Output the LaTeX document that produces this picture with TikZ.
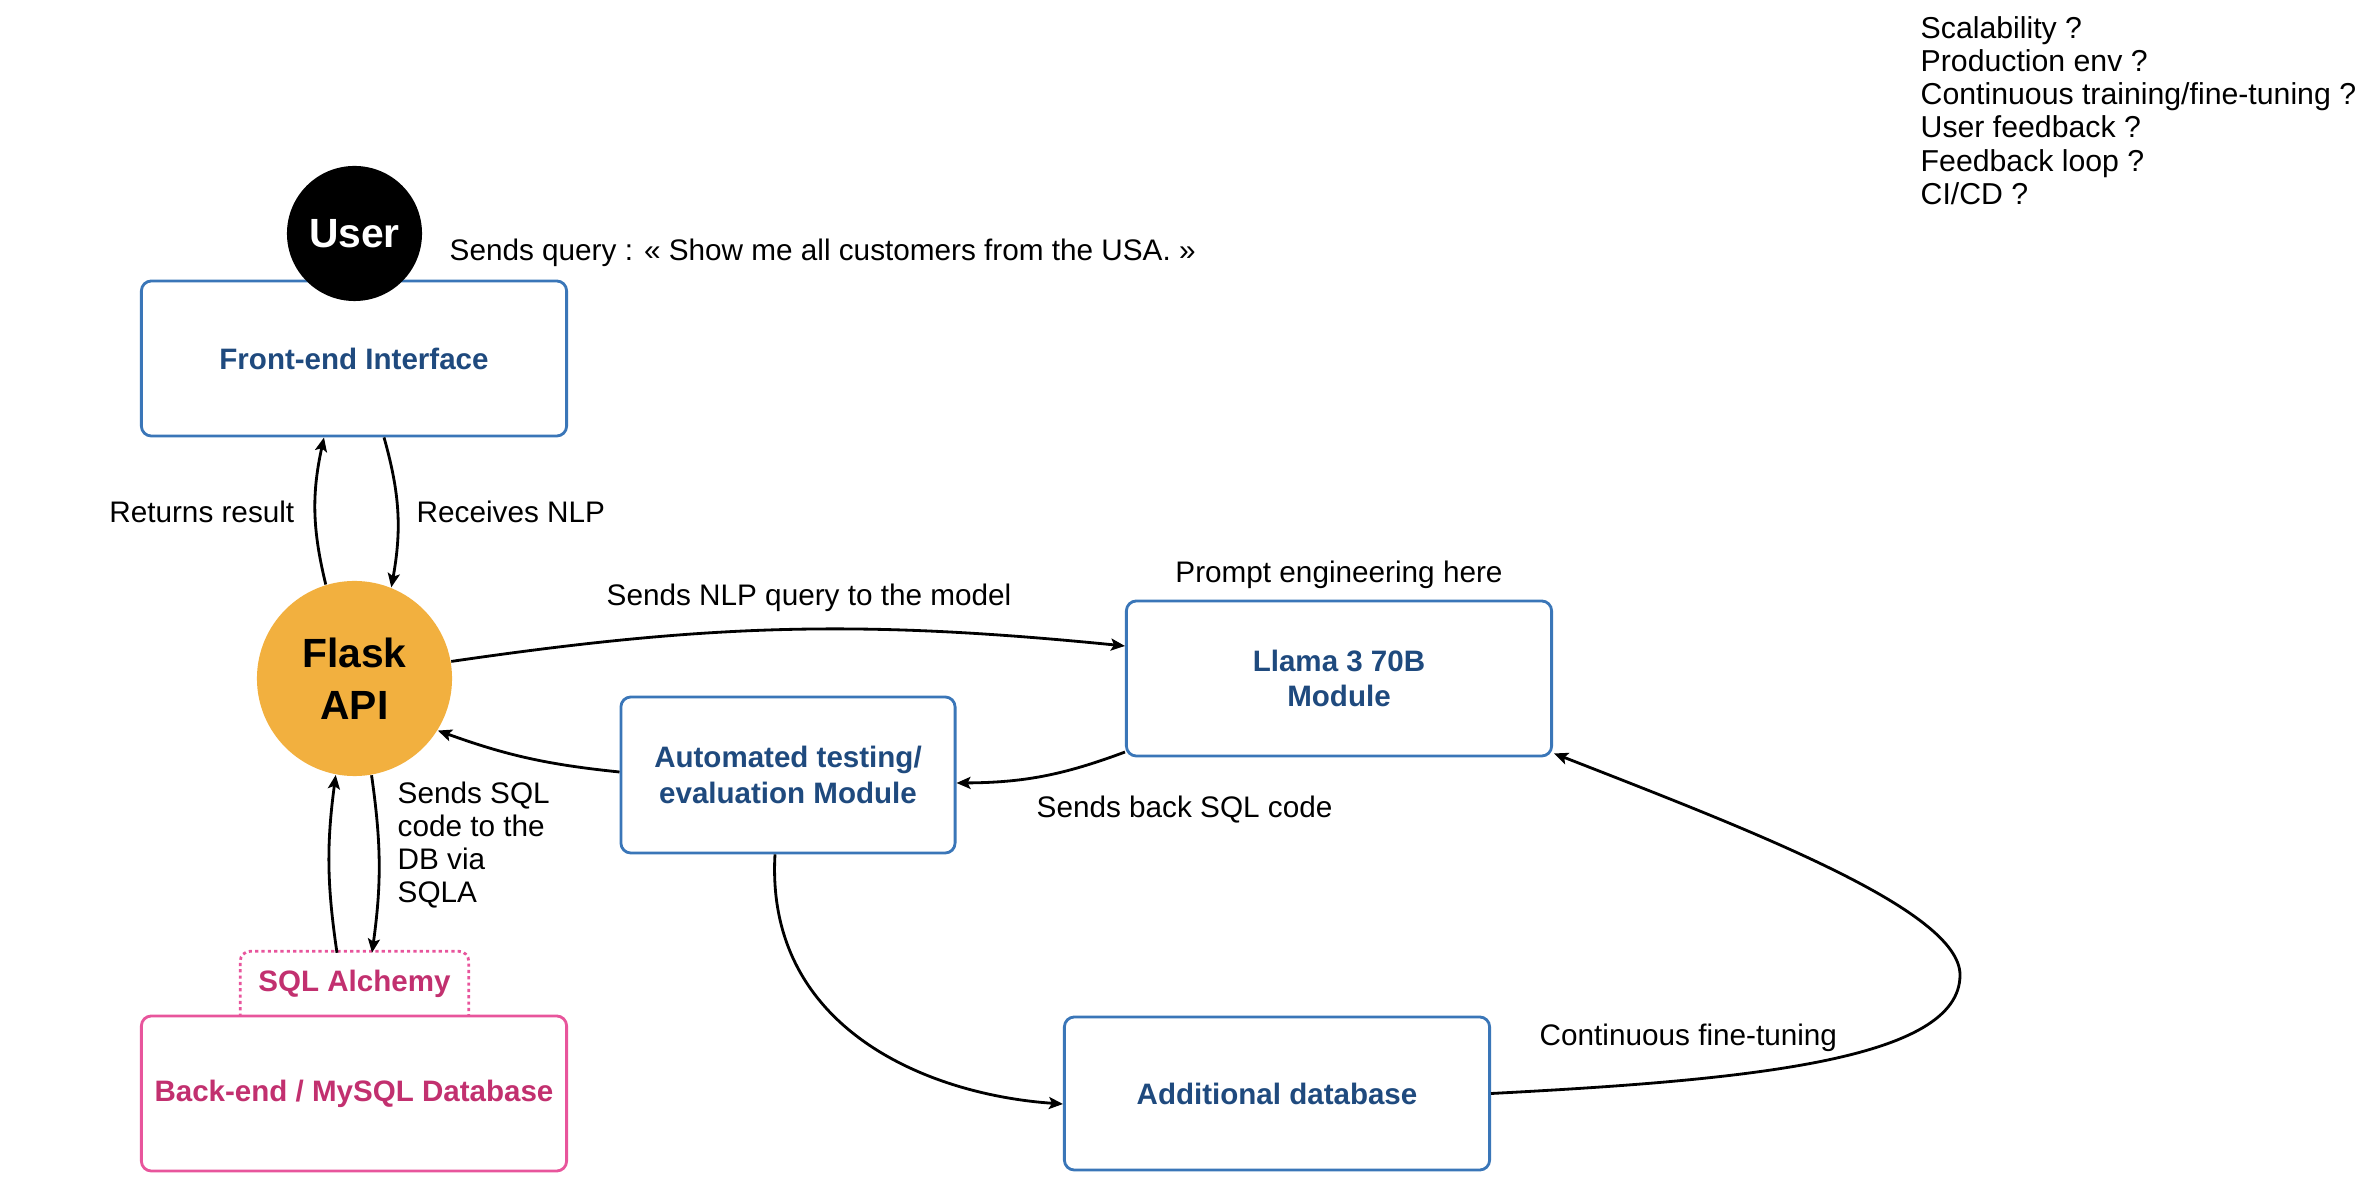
\documentclass[tikz,border=0pt]{standalone}
\usepackage{fontspec}
\setmainfont{Liberation Sans}
\usepackage{xcolor}
\usepackage{tikz}
\usetikzlibrary{arrows.meta}
\definecolor{boxC}{HTML}{3A76B8}
\definecolor{boxT}{HTML}{1F4A7E}
\definecolor{dbC}{HTML}{E8559C}
\definecolor{dbT}{HTML}{C2306F}
\definecolor{flaskC}{HTML}{F2B03F}

\begin{document}
\begin{tikzpicture}[x=0.01cm,y=-0.01cm,
        every node/.style={font=\fontsize{8.45}{9.5}\selectfont},
        module/.style={draw=boxC,line width=0.8pt,rounded corners=0.1cm,fill=white,text=boxT,align=center,
                font=\bfseries\fontsize{8.4}{10.2}\selectfont,minimum width=4.25cm,minimum height=1.55cm},
        dbbox/.style={module,draw=dbC,text=dbT},
        bubble/.style={circle,align=center,font=\bfseries\fontsize{11.6}{14.7}\selectfont},
        note/.style={inner sep=0pt,align=left},
        flow/.style={line width=0.8pt,-{Stealth[length=0.14cm,width=0.12cm,inset=0.03cm]}}]
        \useasboundingbox (0,0) rectangle (2372,1192);
        \node[module] (front) at (354,358.5) {Front-end Interface};
        \node[bubble,fill=black,text=white,minimum size=1.35cm] (user) at (354.5,233.5) {User};
        \node[bubble,fill=flaskC,minimum size=1.95cm] (flask) at (354.5,678.5) {Flask\\API};
        \node[text=dbT,font=\bfseries\fontsize{8.4}{10.2}\selectfont,minimum width=2.27cm,minimum height=0.61cm] (sqla) at (354.5,984) {SQL Alchemy};
        \draw[dbC,line width=0.8pt,dash pattern={on 0.9pt off 0.9pt},rounded corners=0.1cm]
                ([yshift=-0.015cm]sqla.south west) -- ([yshift=0.015cm]sqla.north west) -- ([yshift=0.015cm]sqla.north east) -- ([yshift=-0.015cm]sqla.south east);
        \node[dbbox] (back) at (354,1093.5) {Back-end / MySQL Database};
        \node[module] (llama) at (1339,678.5) {Llama 3 70B\\Module};
        \node[module,minimum width=3.34cm,minimum height=1.56cm] (auto) at (788,775) {Automated testing/\\evaluation Module};
        \node[module,minimum height=1.53cm] (extra) at (1277,1093.5) {Additional database};
        \node[note,anchor=west] (query) at (449,253) {Sends query : « Show me all customers from the USA. »};
        \node[note,anchor=east] (ret) at (295,512) {Returns result};
        \node[note,anchor=west] (recv) at (416,512) {Receives NLP};
        \node[note,anchor=west] (tomodel) at (606,598) {Sends NLP query to the model};
        \node[note] (prompt) at (1339,575) {Prompt engineering here};
        \node[note,anchor=west] (backsql) at (1036,810) {Sends back SQL code};
        \node[note,anchor=west,font=\fontsize{8.45}{9.33}\selectfont] (viasqla) at (397,845) {Sends SQL\\code to the\\DB via\\SQLA};
        \node[note,anchor=west] (tuning) at (1539,1038) {Continuous fine-tuning};
        \node[note,anchor=west,font=\fontsize{8.6}{9.47}\selectfont] (questions) at (1920,110.5)
                {Scalability ?\\Production env ?\\Continuous training/fine-tuning ?\\User feedback ?\\Feedback loop ?\\CI/CD ?};
        \draw[flow] (flask.107.6) to[bend left=13] ([xshift=-0.3cm]front.south);
        \draw[flow] ([xshift=0.3cm]front.south) to[bend left=13] (flask.68.7);
        \draw[flow] (flask.10.2) to[bend left=7] ([yshift=0.325cm]llama.west);
        \draw[flow] ([yshift=-0.735cm]llama.west) to[bend left=10] ([yshift=-0.08cm]auto.east);
        \draw[flow] ([yshift=0.03cm]auto.west) to[bend left=7] (flask.-32.4);
        \draw[flow] (flask.-80.4) to[bend left=8] ([xshift=0.175cm]sqla.north);
        \draw[flow] ([xshift=-0.175cm]sqla.north) to[bend left=8] (flask.-101.9);
        \draw[flow] ([xshift=-0.13cm]auto.south) .. controls (765,1030) and (930,1095) .. ([yshift=-0.105cm]extra.west);
        \draw[flow] (extra.east) .. controls (1750,1080) and (1960,1060) .. (1960,975)
                .. controls (1960,910) and (1750,830) .. ([shift={(0.01cm,0.04cm)}]llama.south east);
\end{tikzpicture}
\end{document}
